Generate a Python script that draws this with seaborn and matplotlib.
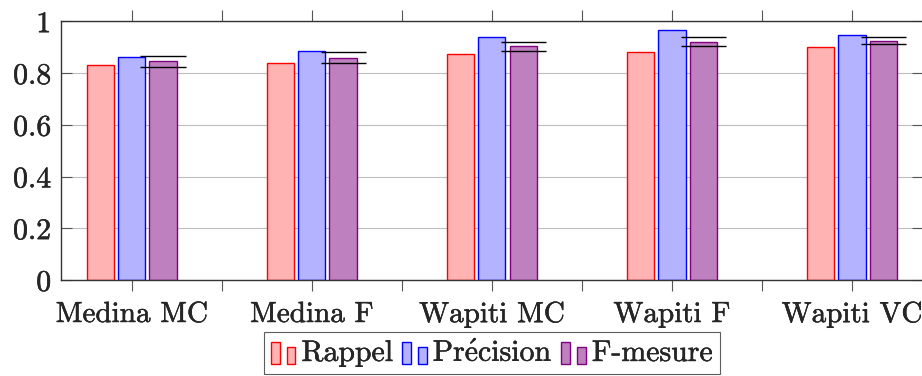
import numpy as np
import pandas as pd
import matplotlib.pyplot as plt
import matplotlib.patheffects as pe
import seaborn as sns
from matplotlib.patches import Rectangle
from matplotlib.legend_handler import HandlerBase

# Data
categories = ["Medina MC", "Medina F", "Wapiti MC", "Wapiti F", "Wapiti VC"]
measures = ["Rappel", "Précision", "F-mesure"]
legend_labels = ["Rappel", r"Pr$\acute{\mathrm{e}}$cision", "F-mesure"]
rappel = [0.832, 0.839, 0.875, 0.881, 0.900]
precision = [0.862, 0.885, 0.938, 0.965, 0.947]
fmesure = [0.846, 0.860, 0.904, 0.920, 0.924]
fm_low = [0.825, 0.839, 0.887, 0.904, 0.913]
fm_high = [0.868, 0.881, 0.921, 0.938, 0.938]
yticks = [0, 0.2, 0.4, 0.6, 0.8, 1.0]
ytick_labels = ["0", "0.2", "0.4", "0.6", "0.8", "1"]

fills = ["#ffb3b3", "#b3b3ff", "#bf80bf"]
edges = ["#ff0000", "#0000ff", "#800080"]

FS = 21.5
XFS = 21
bold_fx = [pe.withStroke(linewidth=0.3, foreground="black")]


class TwoBarHandler(HandlerBase):
    # pgfplots-style "ybar legend": two small bars
    def create_artists(self, legend, orig_handle, xdescent, ydescent,
                       width, height, fontsize, trans):
        fc = orig_handle.get_facecolor()
        ec = orig_handle.get_edgecolor()
        w = width * 0.36
        y0 = -ydescent - height * 0.1
        r1 = Rectangle((-xdescent, y0), w, height,
                       facecolor=fc, edgecolor=ec, lw=1, transform=trans)
        r2 = Rectangle((-xdescent + width * 0.64, y0), w, height * 0.77,
                       facecolor=fc, edgecolor=ec, lw=1, transform=trans)
        return [r1, r2]


def main():
    sns.set_style("white")
    plt.rcParams["font.family"] = ["cmr10", "DejaVu Serif"]
    plt.rcParams["mathtext.fontset"] = "cm"
    plt.rcParams["axes.formatter.use_mathtext"] = True

    df = pd.DataFrame({
        "Systeme": categories * 3,
        "Mesure": [m for m in measures for _ in categories],
        "Score": rappel + precision + fmesure,
    })

    fig = plt.figure(figsize=(9.22, 3.76), dpi=100)
    ax = fig.add_axes([0.066, 0.255, 0.935, 0.688])

    sns.barplot(data=df, x="Systeme", y="Score", hue="Mesure",
                order=categories, hue_order=measures, palette=fills,
                saturation=1, width=0.52, gap=0.13, linewidth=1,
                legend=False, ax=ax)

    for container, ec in zip(ax.containers, edges):
        for bar in container:
            bar.set_edgecolor(ec)
            bar.set_linewidth(1)

    # horizontal markers around F-mesure bars
    fm_bars = ax.containers[2]
    centers = [b.get_x() + b.get_width() / 2 for b in fm_bars]
    half = 0.125
    xmin = [c - half for c in centers]
    xmax = [c + half for c in centers]
    ax.hlines(fm_high, xmin, xmax, color="black", lw=1, zorder=4)
    ax.hlines(fm_low, xmin, xmax, color="black", lw=1, zorder=4)

    ax.set_xlim(-0.394, len(categories) - 1 + 0.394)
    ax.set_ylim(0, 1)
    ax.set_yticks(yticks)
    ax.set_yticklabels(ytick_labels)
    ax.set_xlabel("")
    ax.set_ylabel("")

    ax.set_xticks(range(len(categories)))
    ax.set_xticks(np.arange(len(categories) - 1) + 0.5, minor=True)
    ax.tick_params(axis="x", which="both", direction="out", top=True,
                   bottom=True, length=8, width=0.8, color="#555555",
                   labelsize=XFS, pad=7.5)
    ax.tick_params(axis="y", direction="in", left=True, right=True,
                   length=8, width=0.8, color="#555555", labelsize=FS, pad=7)
    for t in ax.get_xticklabels() + ax.get_yticklabels():
        t.set_path_effects(bold_fx)

    ax.yaxis.grid(True, color="#bdbdbd", lw=0.8)
    ax.set_axisbelow(True)
    for s in ax.spines.values():
        s.set_color("#333333")
        s.set_linewidth(1)
        s.set_visible(True)

    handles = [Rectangle((0, 0), 1, 1, facecolor=f, edgecolor=e)
               for f, e in zip(fills, edges)]
    leg = ax.legend(handles, legend_labels, loc="upper center",
                    bbox_to_anchor=(0.5, -0.2), ncol=3, fontsize=FS,
                    frameon=True, fancybox=False, edgecolor="#333333",
                    handlelength=0.82, handleheight=0.75, handletextpad=0.2,
                    columnspacing=0.3, borderpad=0.25, borderaxespad=0,
                    handler_map={Rectangle: TwoBarHandler()})
    leg.get_frame().set_linewidth(0.8)
    for t in leg.get_texts():
        t.set_path_effects(bold_fx)

    fig.savefig("out.png", dpi=100)


if __name__ == "__main__":
    main()
